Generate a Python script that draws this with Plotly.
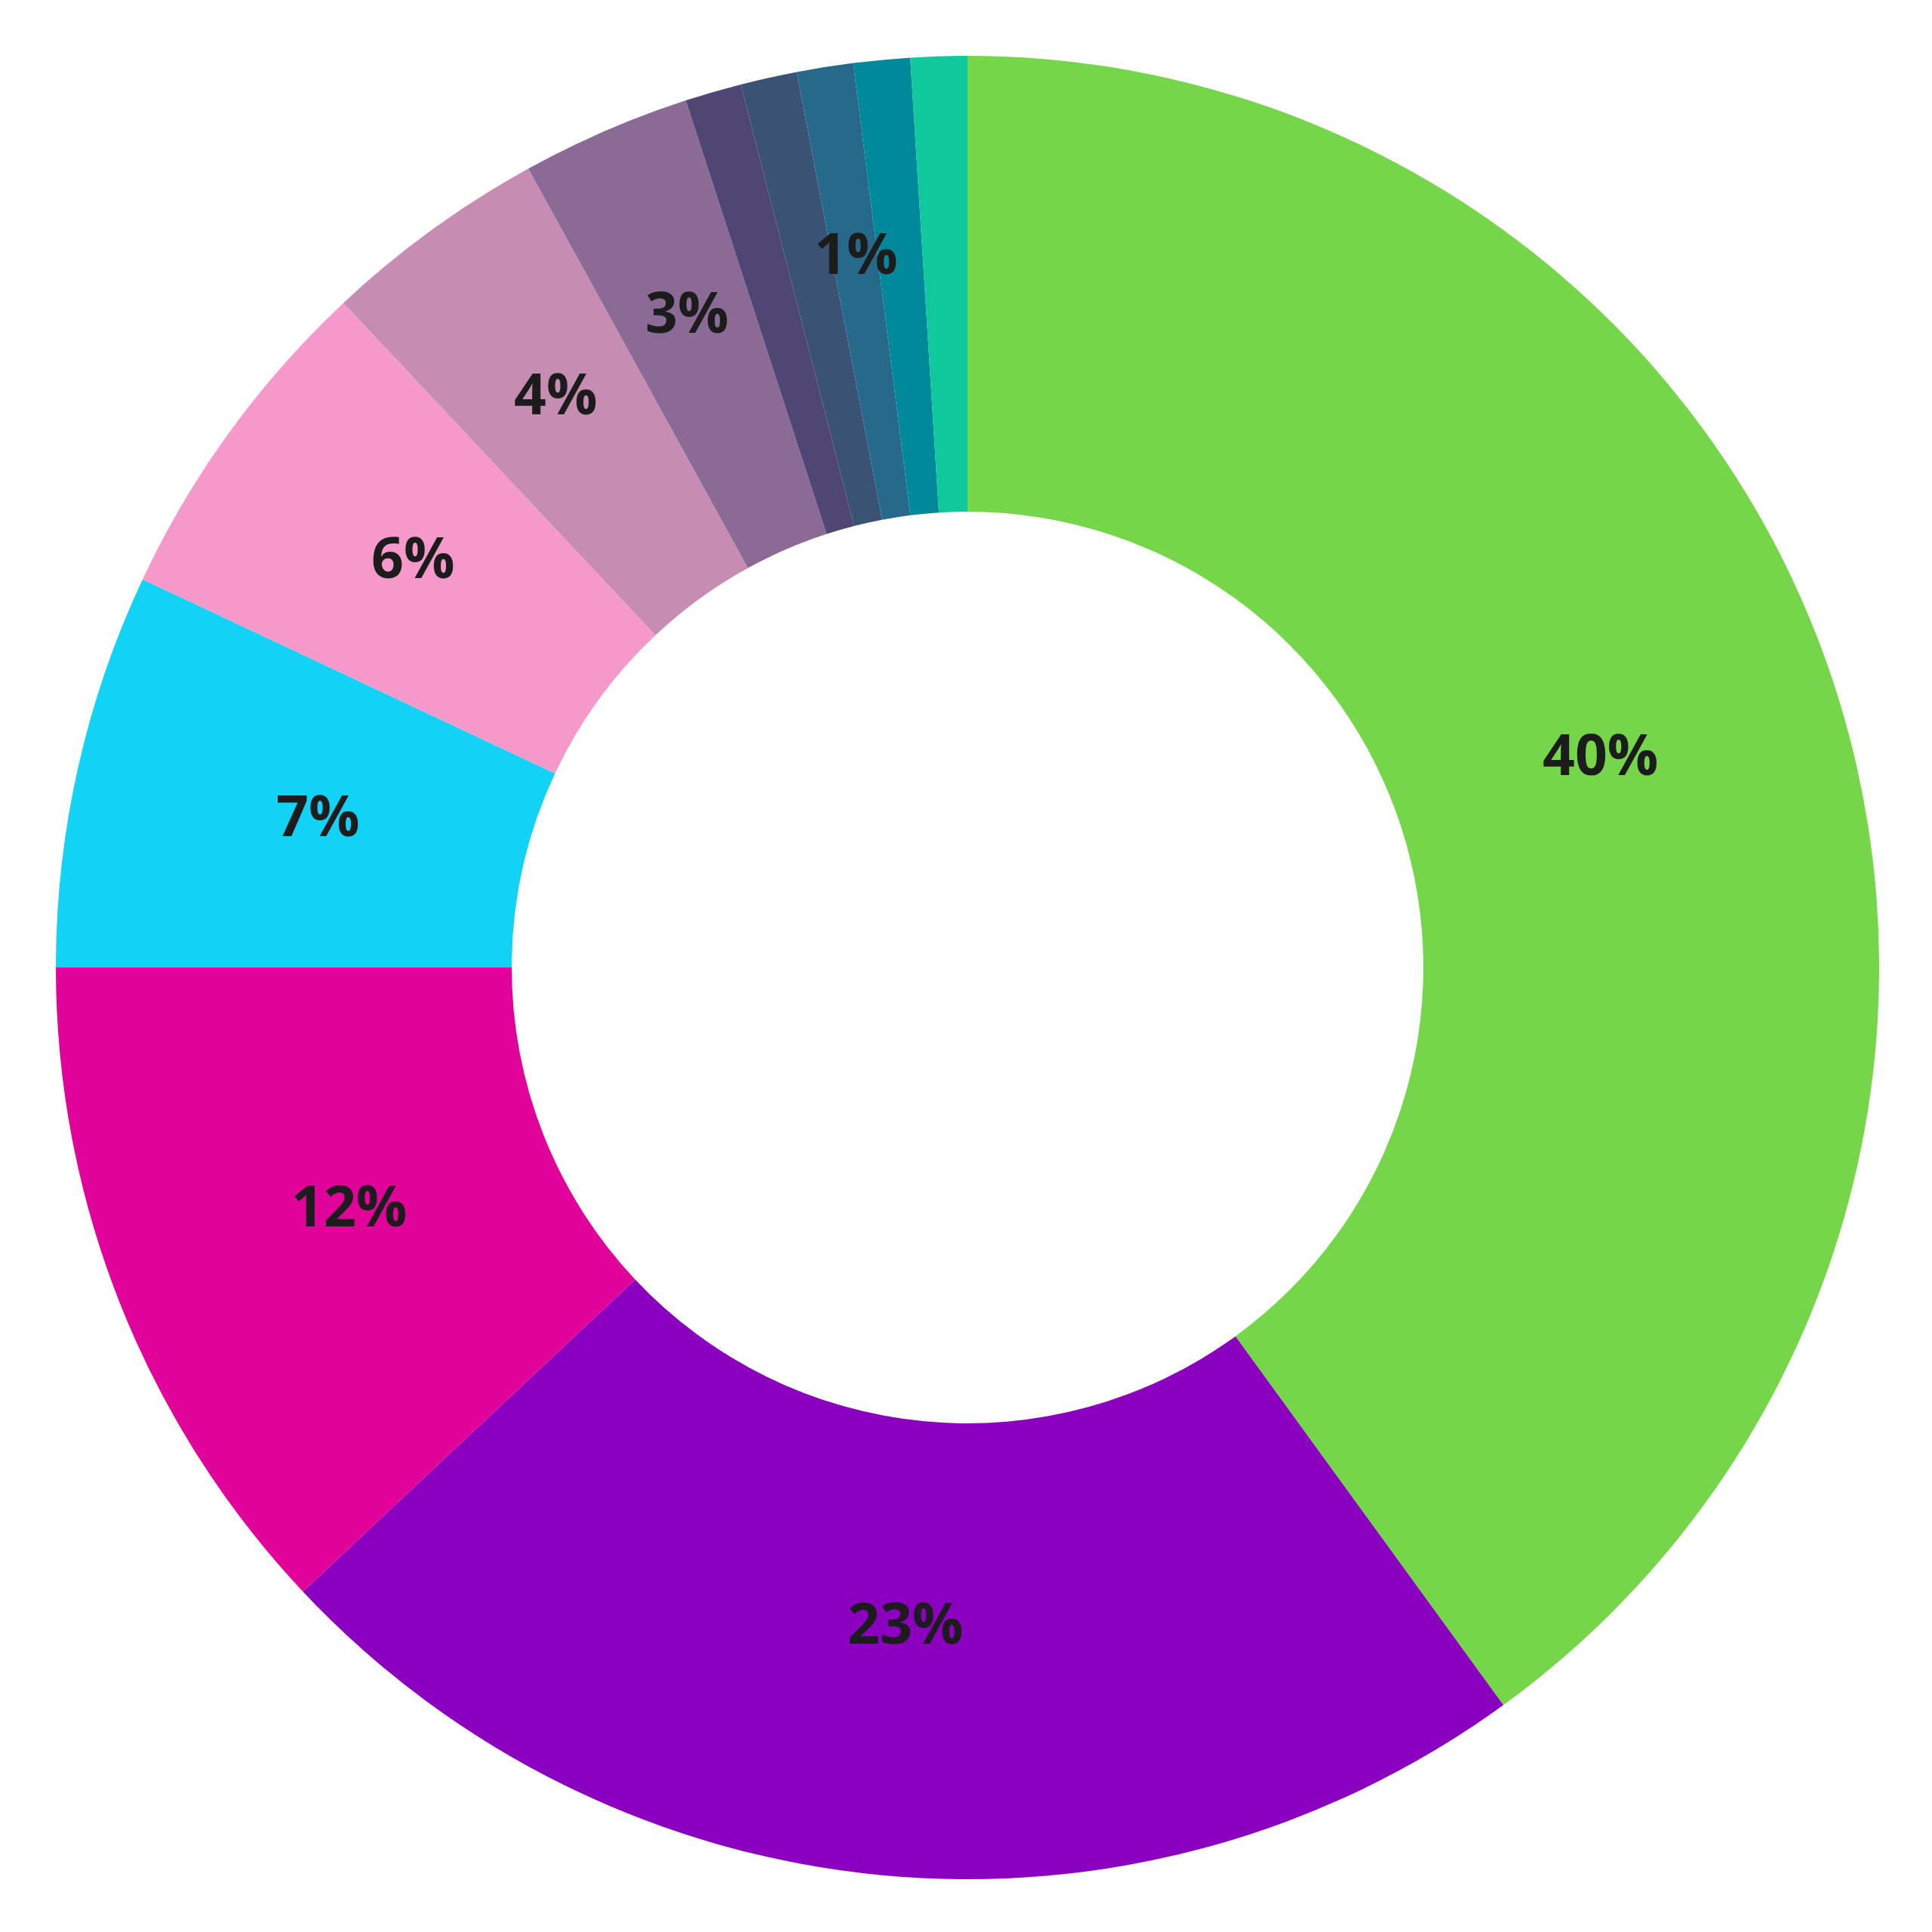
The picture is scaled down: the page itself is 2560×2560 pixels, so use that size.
import math
import plotly.graph_objects as go

# slices, clockwise from 12 o'clock
categories = ["A", "B", "C", "D", "E", "F", "G", "H", "I", "J", "K", "L"]
shares = [40, 23, 12, 7, 6, 4, 3, 1, 1, 1, 1, 1]
colors = ["#75D64A", "#8A00BE", "#E1029A", "#12D2F5", "#F599CB", "#C78CB2",
          "#8C6A96", "#4F4674", "#3A5274", "#26698A", "#00899B", "#0FC99C"]
# which slices carry a percentage label (only one of the thin ones does)
labelled = [True, True, True, True, True, True, True, False, False, True, False, False]

total = sum(shares)

fig = go.Figure(go.Pie(
    labels=categories,
    values=shares,
    textinfo="none",
    hole=0.5,
    sort=False,
    direction="clockwise",
    rotation=0,
    marker=dict(colors=colors, line=dict(width=0)),
    showlegend=False,
))

# labels sit at each slice's mid angle, pushed a little outward on thin slices
label_font = dict(family="Open Sans", size=75, color="#1c1c1c", weight=700)
start = 0
for v, show in zip(shares, labelled):
    mid = (start + v / 2) / total
    start += v
    if not show:
        continue
    theta = 2 * math.pi * mid
    push = math.sqrt(max(0, (7 - v) / 6))
    r = 0.5 * (0.73 + 0.055 * push)
    fig.add_annotation(
        x=0.5 + r * math.sin(theta), y=0.5 + r * math.cos(theta),
        xref="paper", yref="paper", showarrow=False,
        xanchor="center", yanchor="middle", yshift=11,
        text=f"{v / total * 100:.0f}%",
        font=label_font,
    )

fig.update_layout(
    width=2560, height=2560,
    margin=dict(l=66, r=78, t=66, b=78),
    paper_bgcolor="white",
    plot_bgcolor="white",
)

fig.write_html("out.html")
